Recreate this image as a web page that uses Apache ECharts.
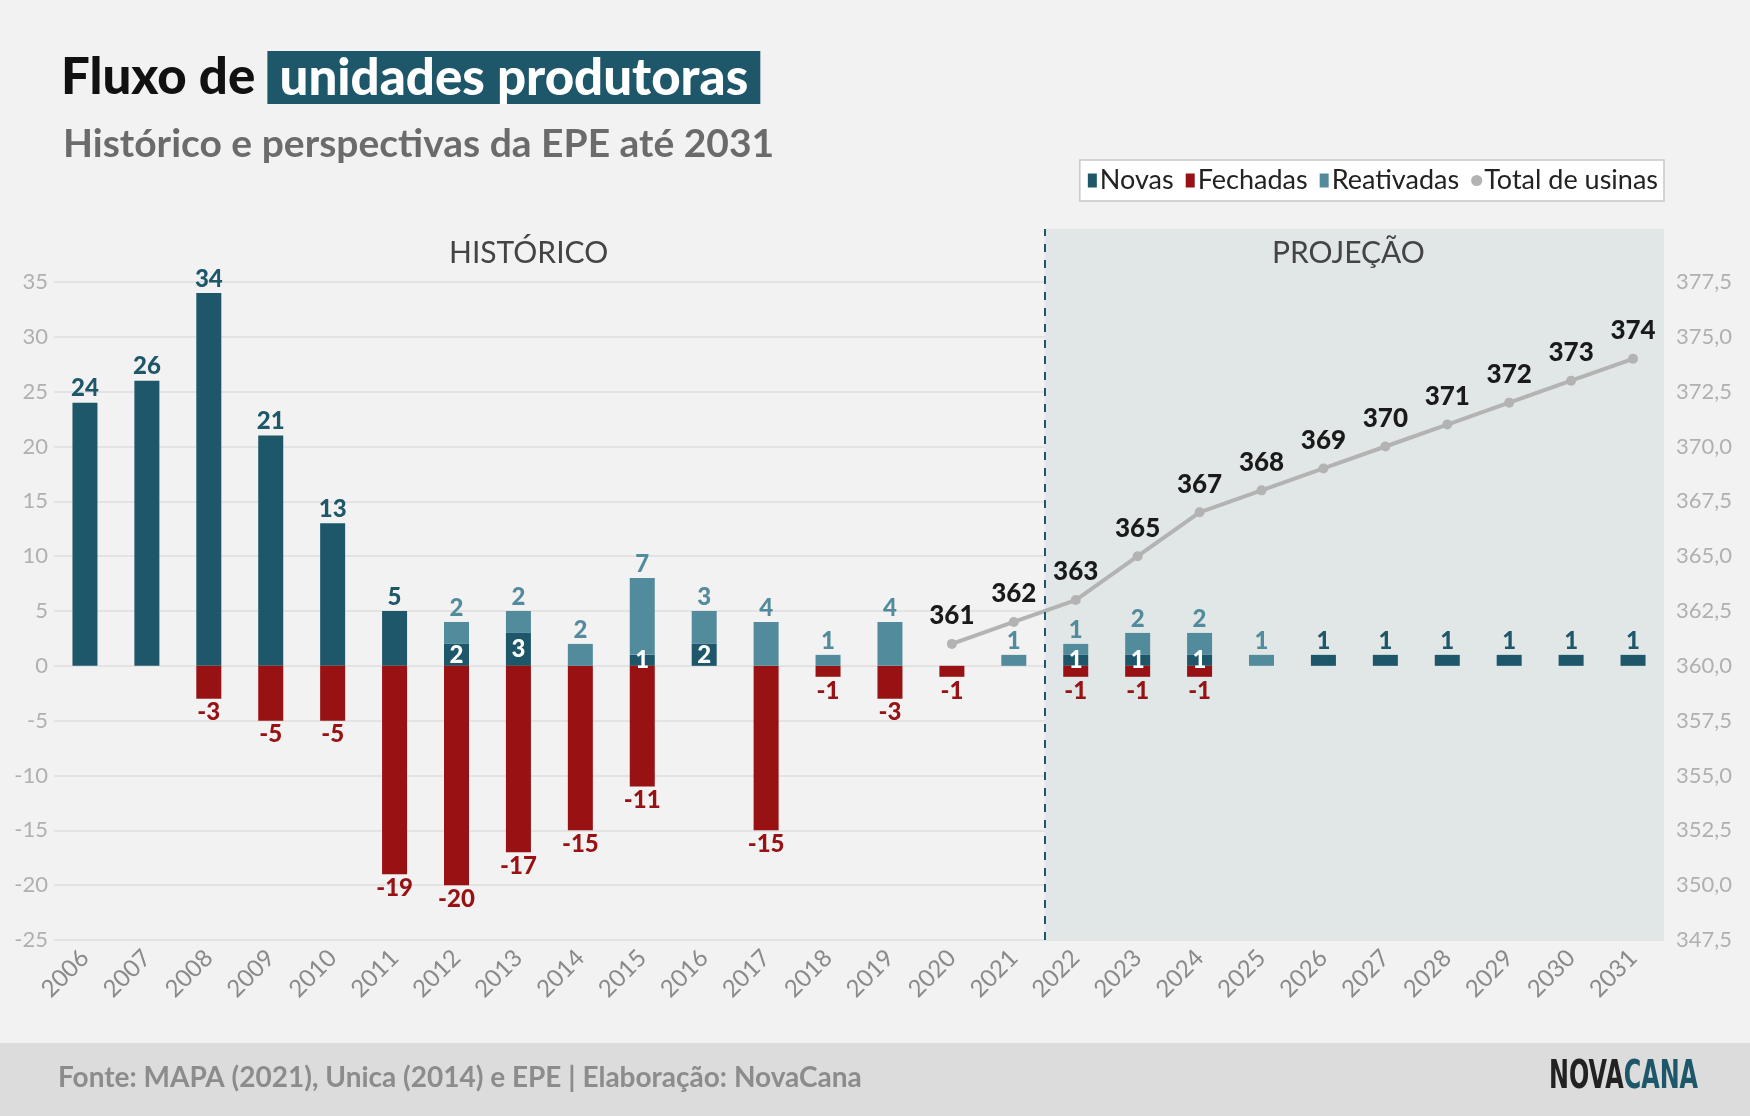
<!DOCTYPE html>
<html>
<head>
<meta charset="utf-8">
<script src="https://cdn.jsdelivr.net/npm/echarts@6/dist/echarts.min.js"></script>
<style>
html,body{margin:0;padding:0;background:#f2f2f2;}
#main{width:1750px;height:1116px;}
</style>
</head>
<body>
<div id="main"></div>
<script>
// dados
var anos = ['2006','2007','2008','2009','2010','2011','2012','2013','2014','2015','2016','2017','2018',
            '2019','2020','2021','2022','2023','2024','2025','2026','2027','2028','2029','2030','2031'];
var novas =       [24,26,34,21,13,5,2,3,0,1,2,0,0,0,0,0,1,1,1,0,1,1,1,1,1,1];
var fechadas =    [0,0,-3,-5,-5,-19,-20,-17,-15,-11,0,-15,-1,-3,-1,0,-1,-1,-1,0,0,0,0,0,0,0];
var reativadas =  [0,0,0,0,0,0,2,2,2,7,3,4,1,4,0,1,1,2,2,1,0,0,0,0,0,0];
var totalUsinas = [null,null,null,null,null,null,null,null,null,null,null,null,null,null,
                   361,362,363,365,367,368,369,370,371,372,373,374];
var inicioProjecao = 15.5; // entre 2021 e 2022

var corNovas = '#1d5769', corFechadas = '#981113', corReat = '#528c9c', corTotal = '#b3b3b3';
var fonte = 'Lato';

var myChart = echarts.init(document.getElementById('main'));

var novasData = novas.map(function (v, i) {
    if (!v) return null;
    if (reativadas[i] > 0) {
        return {value: v, label: {position: 'inside', color: '#fff'}}; // rótulo branco dentro
    }
    return v;
});

var option = {
    backgroundColor: '#f2f2f2',
    textStyle: {fontFamily: fonte},
    title: [
        {
            left: 56, top: 46,
            text: '{a|Fluxo de }{b| unidades produtoras }',
            textStyle: {
                rich: {
                    a: {fontSize: 51, fontWeight: 900, color: '#111', fontFamily: fonte},
                    b: {fontSize: 51, fontWeight: 900, color: '#fff', backgroundColor: '#1d5769',
                        fontFamily: fonte, padding: [2, 0, 0, 0]}
                }
            }
        },
        {
            left: 58, top: 120,
            text: 'Histórico e perspectivas da EPE até 2031',
            textStyle: {fontSize: 39, fontWeight: 'bold', color: '#6b6b6b', fontFamily: fonte}
        }
    ],
    legend: {
        right: 86, top: 160,
        backgroundColor: '#fff', borderColor: '#c8c8c8', borderWidth: 1.5,
        padding: [7, 6, 7, 8], itemGap: 12,
        itemWidth: 9, itemHeight: 14,
        textStyle: {fontSize: 27, color: '#222', fontFamily: fonte, padding: [0, 0, 0, -2]},
        data: [
            {name: 'Novas', icon: 'rect'},
            {name: 'Fechadas', icon: 'rect'},
            {name: 'Reativadas', icon: 'rect'},
            {name: 'Total de usinas'}
        ]
    },
    grid: [
        {left: 54, right: 86, top: 282, bottom: 176},
        {left: 54, right: 86, top: 229, bottom: 176}
    ],
    xAxis: [
        {
            type: 'category', data: anos, gridIndex: 0,
            axisLine: {show: false}, axisTick: {show: false},
            axisLabel: {rotate: 45, fontSize: 24, color: '#8a8a8a', margin: 14, interval: 0}
        },
        {
            type: 'value', gridIndex: 1, min: -0.5, max: 25.5, show: false
        }
    ],
    yAxis: [
        {
            type: 'value', gridIndex: 0, min: -25, max: 35, interval: 5,
            axisLabel: {fontSize: 22, color: '#b0b0b0', margin: 6},
            splitLine: {lineStyle: {color: '#dedede', width: 1.5}}
        },
        {
            type: 'value', gridIndex: 0, min: 347.5, max: 377.5, interval: 2.5,
            axisLabel: {fontSize: 22, color: '#b0b0b0', margin: 12,
                        formatter: function (v) { return v.toFixed(1).replace('.', ','); }},
            splitLine: {show: false}
        },
        {type: 'value', gridIndex: 1, min: 0, max: 1, show: false}
    ],
    series: [
        {
            name: 'Novas', type: 'bar', stack: 'a', barWidth: 25,
            itemStyle: {color: corNovas},
            label: {show: true, position: 'top', fontSize: 24, fontWeight: 900, color: corNovas, distance: 2},
            data: novasData,
            z: 3
        },
        {
            name: 'Fechadas', type: 'bar', stack: 'a', barWidth: 25,
            itemStyle: {color: corFechadas},
            label: {show: true, position: 'bottom', fontSize: 24, fontWeight: 900, color: corFechadas, distance: 2},
            data: fechadas.map(function (v) { return v ? v : null; }),
            z: 3
        },
        {
            name: 'Reativadas', type: 'bar', stack: 'a', barWidth: 25,
            itemStyle: {color: corReat},
            label: {show: true, position: 'top', fontSize: 24, fontWeight: 900, color: corReat, distance: 2},
            data: reativadas.map(function (v) { return v ? v : null; }),
            z: 3
        },
        {
            name: 'Total de usinas', type: 'line', yAxisIndex: 1,
            symbol: 'circle', symbolSize: 10,
            lineStyle: {color: corTotal, width: 4},
            itemStyle: {color: corTotal},
            label: {show: true, position: 'top', fontSize: 26, fontWeight: 900, color: '#1a1a1a', distance: 10},
            data: totalUsinas,
            z: 4
        },
        {
            // faixa da projeção
            type: 'line', xAxisIndex: 1, yAxisIndex: 2, data: [], silent: true,
            markArea: {
                silent: true,
                itemStyle: {color: '#e1e7e7'},
                data: [[{xAxis: inicioProjecao, yAxis: 0}, {xAxis: 25.5, yAxis: 1}]]
            },
            markLine: {
                silent: true, symbol: 'none', label: {show: false},
                lineStyle: {color: '#1d5769', type: [8, 8], width: 2},
                data: [{xAxis: inicioProjecao}]
            },
            z: 0
        }
    ],
    graphic: [
        {type: 'text', left: 449, top: 238, z: 10,
         style: {text: 'HISTÓRICO', fontSize: 30, fill: '#444', fontFamily: fonte}},
        {type: 'text', left: 1272, top: 238, z: 10,
         style: {text: 'PROJEÇÃO', fontSize: 30, fill: '#444', fontFamily: fonte}},
        {type: 'rect', left: 0, top: 1043, z: -1,
         shape: {width: 1750, height: 73}, style: {fill: '#dcdcdc'}},
        {type: 'text', left: 58, top: 1064, z: 10,
         style: {text: 'Fonte: MAPA (2021), Unica (2014) e EPE | Elaboração: NovaCana',
                 fontSize: 28, fontWeight: 'bold', fill: '#8c8c8c', fontFamily: fonte}},
        {type: 'text', x: 1549, y: 1058, scaleX: 0.68, z: 10,
         style: {
             text: '{a|NOVA}{b|CANA}',
             rich: {
                 a: {fontSize: 39, fontWeight: 'bold', fill: '#222', fontFamily: 'DejaVu Sans Condensed'},
                 b: {fontSize: 39, fontWeight: 'bold', fill: '#1d5769', fontFamily: 'DejaVu Sans Condensed'}
             }
         }}
    ]
};
myChart.setOption(option);
</script>
</body>
</html>
